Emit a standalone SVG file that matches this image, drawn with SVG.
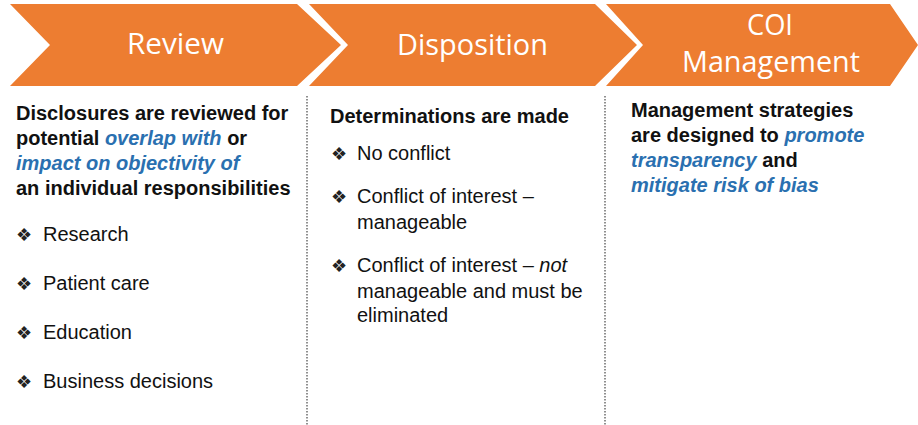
<svg xmlns="http://www.w3.org/2000/svg" width="918" height="425" viewBox="0 0 918 425">
<style>
.chev{fill:#ED7D31;}
.head{font-family:"Open Sans","Noto Sans",sans-serif;font-size:29px;fill:#FFFFFF;text-anchor:middle;}
.b{font-family:"Liberation Sans",Arial,sans-serif;font-size:20px;font-weight:bold;fill:#111111;}
.t{font-family:"Liberation Sans",Arial,sans-serif;font-size:20px;fill:#111111;}
.em{font-style:italic;fill:#2A70B0;}
.bul{font-family:"DejaVu Sans",sans-serif;font-size:18px;fill:#222222;}
.sep{stroke:#555555;stroke-width:1.3;stroke-dasharray:1.5 1.5;fill:none;}
</style>
<rect width="918" height="425" fill="#FFFFFF"/>
<g id="review">
<polygon class="chev" points="10,4 297,4 341,45 297,86 10,86 50,45"/>
<text class="head" x="175.5" y="54" textLength="97" lengthAdjust="spacingAndGlyphs">Review</text>
</g>
<g id="disposition">
<polygon class="chev" points="309,4 595,4 637,45 595,86 309,86 348,45"/>
<text class="head" x="472.5" y="55" textLength="151" lengthAdjust="spacingAndGlyphs">Disposition</text>
</g>
<g id="coi-management">
<polygon class="chev" points="606,4 890,4 918,45 890,86 606,86 643,45"/>
<text class="head" x="770" y="35" textLength="46" lengthAdjust="spacingAndGlyphs">COI</text>
<text class="head" x="771" y="72" textLength="178" lengthAdjust="spacingAndGlyphs">Management</text>
</g>
<g id="separators">
<line class="sep" x1="307" y1="96" x2="307" y2="425"/>
<line class="sep" x1="605" y1="96" x2="605" y2="425"/>
</g>
<g id="review-text">
<text class="b" x="16" y="120">Disclosures are reviewed for</text>
<text class="b" x="16" y="145">potential <tspan class="em">overlap with</tspan> or</text>
<text class="b" x="16" y="170"><tspan class="em">impact on objectivity of</tspan></text>
<text class="b" x="16" y="195">an individual responsibilities</text>
<text class="bul" x="16" y="241">❖</text><text class="t" x="43" y="241">Research</text>
<text class="bul" x="16" y="290">❖</text><text class="t" x="43" y="290">Patient care</text>
<text class="bul" x="16" y="339">❖</text><text class="t" x="43" y="339">Education</text>
<text class="bul" x="16" y="388">❖</text><text class="t" x="43" y="388">Business decisions</text>
</g>
<g id="disposition-text">
<text class="b" x="330" y="123">Determinations are made</text>
<text class="bul" x="331" y="160">❖</text><text class="t" x="357" y="160">No conflict</text>
<text class="bul" x="331" y="203">❖</text><text class="t" x="357" y="203">Conflict of interest –</text>
<text class="t" x="357" y="229">manageable</text>
<text class="bul" x="331" y="272">❖</text><text class="t" x="357" y="272">Conflict of interest – <tspan font-style="italic">not</tspan></text>
<text class="t" x="357" y="298">manageable and must be</text>
<text class="t" x="357" y="322">eliminated</text>
</g>
<g id="coi-text">
<text class="b" x="631" y="117">Management strategies</text>
<text class="b" x="631" y="142">are designed to <tspan class="em">promote</tspan></text>
<text class="b" x="631" y="167"><tspan class="em">transparency</tspan> and</text>
<text class="b" x="631" y="192"><tspan class="em">mitigate risk of bias</tspan></text>
</g>
</svg>
